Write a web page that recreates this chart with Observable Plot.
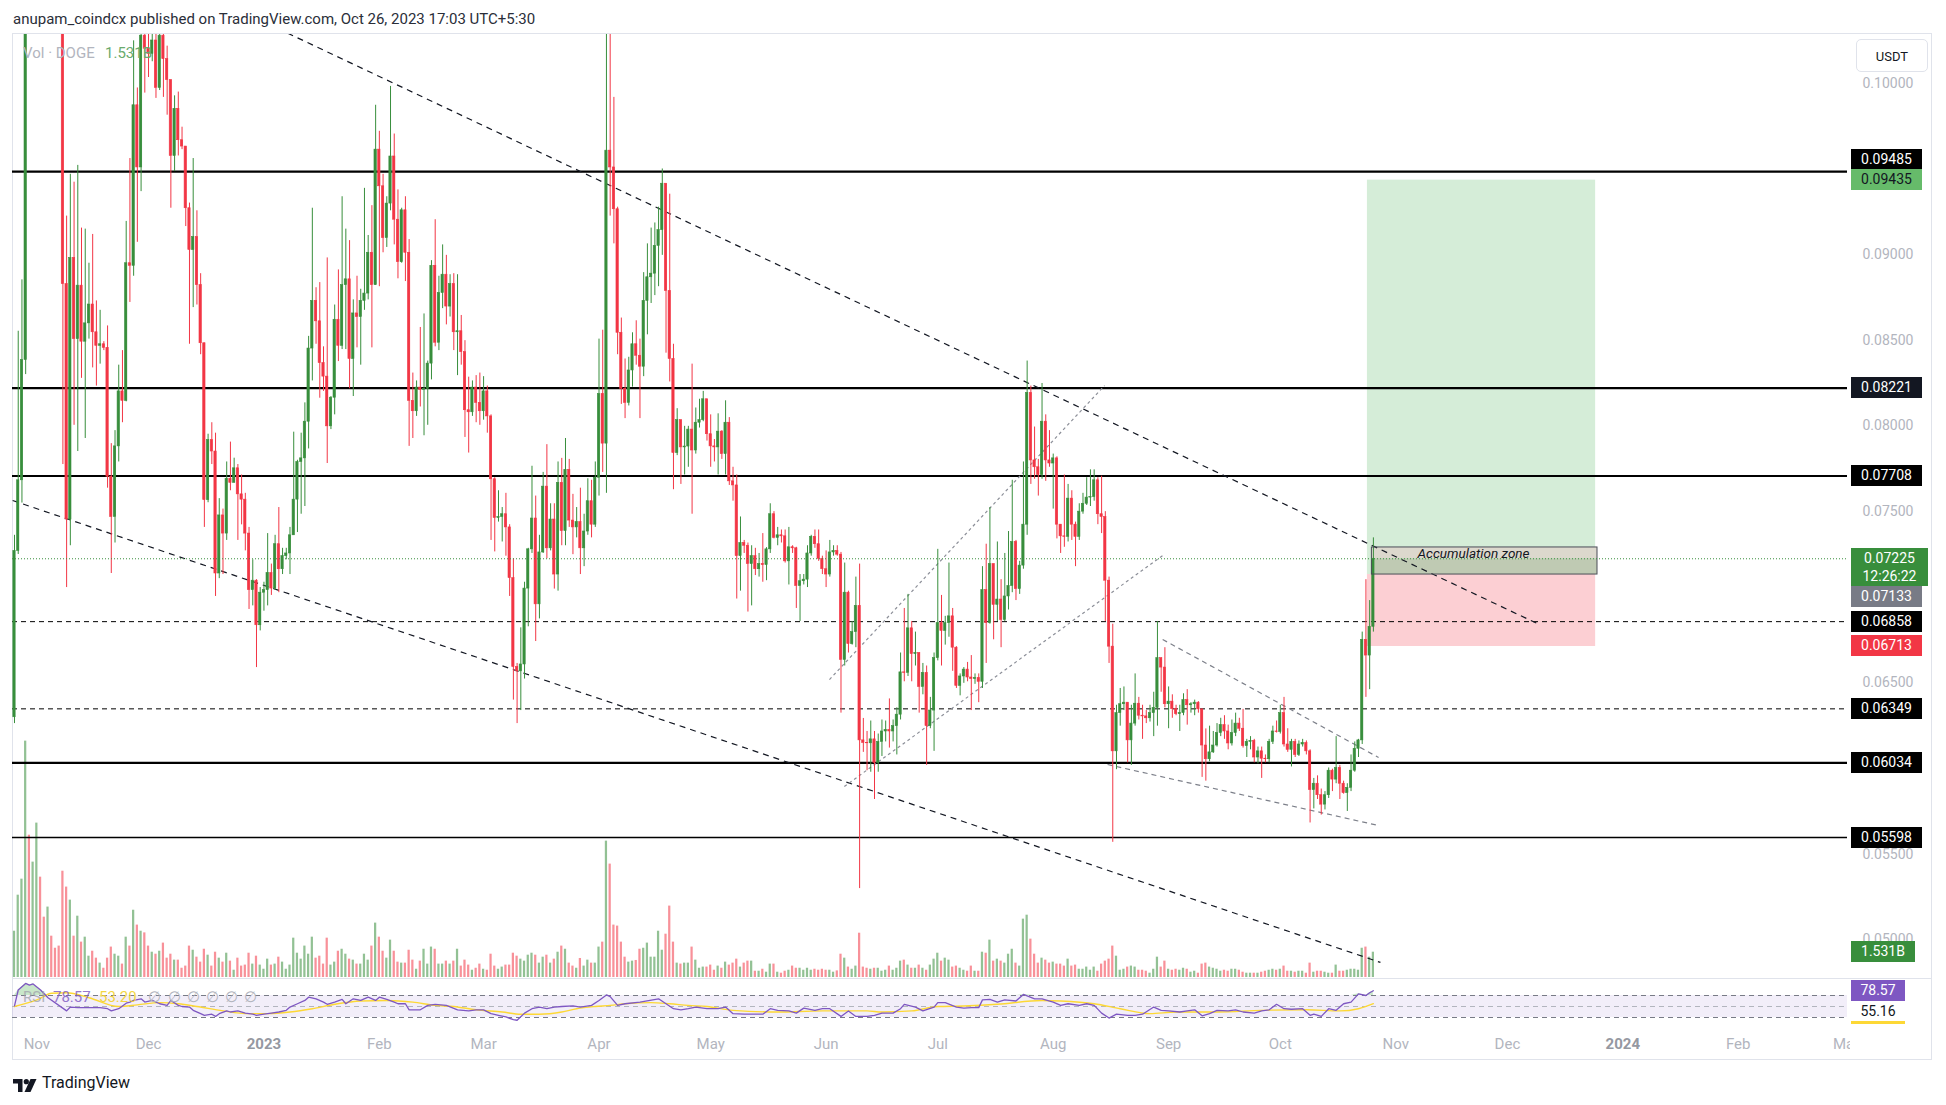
<!DOCTYPE html>
<html><head><meta charset="utf-8">
<script src="https://cdn.jsdelivr.net/npm/d3@7"></script>
<script src="https://cdn.jsdelivr.net/npm/@observablehq/plot@0.6"></script>
<style>
body{margin:0;background:#fff;font-family:Roboto,"Liberation Sans",sans-serif;}
#root{position:relative;width:1946px;height:1105px;overflow:hidden;}
.layer{position:absolute;left:0;top:0;pointer-events:none;}
</style></head><body><div id="root"></div>
<script>
const START = Date.UTC(2022, 9, 26);
const DAY = 864e5;
const firstOpen = 0.0630;
const closes = [
.07271,.07683,.08385,.1300,.1250,.1390,.1420,.1320,.1270,.1310,
.1230,.1150,.1080,.08828,.07454,.08981,.08507,.08819,.08492,.08599,
.08709,.08547,.08468,.08477,.08456,.07704,.07469,.07881,.08202,.08147,
.08950,.08935,.09872,.09509,.10278,.10202,.10172,.1025,.09973,.10278,
.10141,.10019,.09576,.09851,.09668,.09631,.09271,.09027,.09103,.08822,
.08483,.07567,.07918,.07851,.07139,.07478,.07372,.07692,.07668,.07753,
.07601,.07570,.07372,.07042,.07097,.06837,.07027,.07042,.07142,.07051,
.07310,.07164,.07240,.07256,.07362,.07570,.07790,.07811,.08025,.08452,
.08730,.08611,.08367,.08288,.07998,.08165,.08620,.08468,.08822,.08856,
.08391,.08657,.08636,.08730,.08773,.09011,.08822,.09613,.09399,.09097,
.09298,.09573,.09204,.08956,.09259,.09011,.08147,.08086,.08224,.08211,
.08217,.08364,.08935,.08486,.08776,.08883,.08697,.08828,.08547,.08553,
.08431,.08092,.08080,.08224,.08135,.08086,.08202,.08056,.07689,.07463,
.07469,.07485,.07408,.07112,.06593,.06568,.06608,.07051,.07280,.07460,
.06959,.07262,.07646,.07286,.07454,.07133,.07668,.07387,.07744,.07448,
.07408,.07439,.07286,.07384,.07561,.07424,.07698,.08187,.07897,.09607,
.09509,.09265,.08544,.08217,.08135,.08324,.08477,.08410,.08346,.08730,
.08868,.08889,.09051,.09143,.09414,.08788,.08391,.07842,.08034,.07875,
.07880,.07979,.07857,.08019,.08034,.08156,.07952,.07881,.07875,.07967,
.07836,.08019,.07677,.07653,.07240,.07317,.07301,.07194,.07240,.07164,
.07194,.07188,.07280,.07485,.07347,.07362,.07356,.07210,.07292,.07286,
.07066,.07094,.07103,.07256,.07353,.07310,.07225,.07164,.07133,.07262,
.07271,.07249,.06635,.07027,.06727,.06797,.06950,.06165,.06150,.06148,
.06171,.06034,.06156,.06217,.06226,.06217,.06248,.06315,.06562,.06559,
.06819,.06669,.06675,.06477,.06559,.06248,.06339,.06645,.06849,.06804,
.06849,.06889,.06706,.06483,.06538,.06578,.06532,.06523,.06529,.06507,
.07042,.06849,.07194,.06956,.06987,.06868,.07005,.07066,.07323,.07048,
.07185,.07424,.08193,.07799,.07759,.07714,.08025,.07799,.07781,.07811,
.07424,.07356,.07353,.07576,.07424,.07353,.07500,.07546,.07582,.07585,
.07683,.07485,.07469,.07097,.06712,.06101,.06324,.06376,.06385,.06165,
.06263,.06379,.06309,.06305,.06294,.06324,.06355,.06645,.06590,.06376,
.06391,.06348,.06318,.06324,.06400,.06370,.06376,.06385,.06346,.06135,
.06055,.06095,.06135,.06208,.06254,.06217,.06147,.06208,.06263,.06233,
.06132,.06156,.06162,.06065,.06101,.06058,.06055,.06156,.06217,.06214,
.06324,.06141,.06110,.06156,.06080,.06141,.06150,.06101,.05875,.05912,
.05845,.05790,.05845,.05988,.05936,.06004,.05912,.05857,.05888,.05988,
.06116,.06165,.06752,.06660,.06828,.07225];
const highs = [
.07362,.08553,.08853,.1420,.1380,.1430,.1590,.1440,.1350,.1360,
.1330,.1240,.1170,.1090,.09225,.09469,.09423,.09521,.09155,.09149,
.08950,.09118,.08730,.08675,.08492,.08584,.07897,.07973,.08355,.08440,
.09194,.09561,.10248,.09973,.1045,.1040,.1035,.1040,.1035,.1045,
.1040,.10217,.10019,.09927,.09949,.09744,.09631,.09301,.09561,.09256,
.08889,.08483,.07952,.08019,.07958,.07576,.07515,.07790,.07906,.07812,
.07775,.07714,.07607,.07408,.07219,.07103,.07057,.07088,.07372,.07194,
.07362,.07524,.07286,.07286,.07408,.07964,.07800,.07958,.08135,.08523,
.09271,.08807,.08837,.08462,.08981,.08172,.08706,.08911,.09338,.09149,
.09082,.08736,.08874,.08798,.09387,.09112,.09286,.09872,.09720,.09469,
.09338,.09982,.09704,.09378,.09271,.09338,.09088,.08309,.08263,.08575,
.08654,.08379,.08965,.09204,.08874,.09057,.08996,.08883,.08889,.08883,
.08645,.08498,.08285,.08263,.08294,.08309,.08288,.08233,.08065,.07698,
.07622,.07524,.07607,.07424,.07225,.06614,.06822,.07088,.07286,.07765,
.07591,.07362,.07729,.07891,.07546,.07546,.07790,.07811,.07927,.07805,
.07601,.07524,.07637,.07485,.07692,.07683,.07790,.08507,.08559,.1040,
.1030,.09918,.09277,.08630,.08391,.08401,.08544,.08614,.08507,.08895,
.09063,.09155,.09185,.09277,.09500,.09414,.09353,.08477,.08101,.08034,
.07998,.07998,.08361,.08105,.08156,.08202,.08156,.08065,.07921,.08071,
.07973,.08147,.08049,.07759,.07714,.07469,.07332,.07317,.07301,.07286,
.07256,.07372,.07290,.07546,.07500,.07408,.07393,.07393,.07408,.07301,
.07292,.07133,.07133,.07301,.07362,.07393,.07393,.07240,.07271,.07332,
.07301,.07301,.07262,.07200,.07036,.06859,.07118,.07194,.06293,.06217,
.06278,.06217,.06202,.06284,.06278,.06407,.06284,.06355,.06675,.06935,
.07017,.06859,.06797,.06675,.06614,.06599,.06416,.06675,.07280,.07011,
.06889,.07200,.06935,.06712,.06553,.06590,.06620,.06660,.06553,.06553,
.07179,.07310,.07524,.07194,.07323,.07103,.07256,.07384,.07683,.07332,
.07210,.07790,.08379,.08233,.07994,.07805,.08248,.08065,.07973,.07836,
.07820,.07424,.07714,.07659,.07622,.07439,.07546,.07607,.07698,.07744,
.07744,.07698,.07707,.07500,.07118,.06843,.06370,.06468,.06477,.06385,
.06370,.06553,.06416,.06370,.06339,.06370,.06446,.06859,.06645,.06706,
.06477,.06431,.06370,.06370,.06437,.06461,.06385,.06400,.06391,.06346,
.06232,.06248,.06217,.06263,.06294,.06309,.06254,.06284,.06324,.06294,
.06346,.06171,.06187,.06171,.06126,.06126,.06080,.06171,.06248,.06278,
.06370,.06416,.06233,.06171,.06171,.06162,.06171,.06162,.06110,.05943,
.05958,.05881,.05866,.06004,.05997,.06187,.06019,.05927,.05912,.06080,
.06156,.06171,.06797,.07103,.06981,.07347];
const lows = [
.06263,.07250,.07550,.08300,.1190,.1220,.1330,.1280,.1200,.1230,
.1200,.1100,.1040,.07775,.07057,.07301,.08004,.07851,.08278,.07927,
.08507,.08339,.08233,.08361,.08440,.07637,.07139,.07317,.07790,.08019,
.08141,.08721,.08874,.09072,.09368,.09943,.10034,.10126,.09912,.09958,
.09918,.09814,.09271,.09485,.09576,.09613,.09164,.08477,.08691,.08706,
.08416,.07408,.07552,.07775,.07005,.07109,.07133,.07332,.07622,.07668,
.07332,.07423,.07271,.06929,.06950,.06590,.06804,.06919,.06950,.07011,
.07042,.07027,.07133,.07219,.07133,.07378,.07378,.07485,.07530,.07866,
.08263,.08477,.08162,.08202,.07781,.07979,.08065,.08376,.08446,.08446,
.08217,.08172,.08456,.08355,.08675,.08736,.08456,.08828,.08813,.09011,
.09042,.09256,.09057,.08859,.08950,.08843,.07881,.07927,.08056,.08111,
.07943,.08004,.08269,.08462,.08440,.08685,.08590,.08636,.08440,.08294,
.08355,.07933,.07842,.08056,.08019,.08004,.08034,.07958,.07332,.07265,
.07439,.07323,.07240,.07005,.06400,.06263,.06339,.06523,.06828,.07256,
.06742,.06874,.07256,.07225,.07271,.07048,.07036,.07301,.07301,.07408,
.07249,.07347,.07133,.07179,.07362,.07347,.07408,.07591,.07729,.07607,
.09225,.09063,.08416,.08126,.08043,.08117,.08227,.08355,.08043,.08288,
.08532,.08715,.08761,.08813,.08996,.08425,.08257,.07628,.07827,.07659,
.07714,.07759,.07485,.07836,.07988,.08025,.07912,.07759,.07790,.07714,
.07805,.07714,.07653,.07561,.06990,.07036,.07256,.06914,.06950,.07127,
.07118,.07088,.07097,.07256,.07341,.07301,.07317,.07200,.07072,.07256,
.06935,.06859,.07072,.07057,.07240,.07286,.07210,.07133,.07057,.07118,
.07240,.07240,.06324,.06599,.06675,.06721,.06706,.05300,.06095,.05988,
.05979,.05820,.05979,.06071,.06156,.06120,.06156,.06080,.06284,.06507,
.06538,.06507,.06599,.06324,.06431,.06019,.06233,.06101,.06629,.06599,
.06721,.06767,.06568,.06468,.06425,.06498,.06507,.06339,.06492,.06385,
.06468,.06614,.06843,.06752,.06859,.06706,.06859,.06926,.07027,.06981,
.07017,.07164,.07362,.07659,.07689,.07591,.07689,.07677,.07759,.07515,
.07341,.07256,.07292,.07323,.07332,.07179,.07332,.07485,.07536,.07530,
.07561,.07424,.07372,.06859,.06614,.05570,.05994,.06248,.06339,.06034,
.06019,.06248,.06284,.06171,.06263,.06272,.06187,.06248,.06446,.06355,
.06233,.06294,.06309,.06217,.06309,.06254,.06324,.06309,.06324,.05949,
.05927,.06040,.06089,.06126,.06187,.06171,.06110,.06132,.06187,.06217,
.06120,.06065,.06110,.06034,.06028,.05943,.06034,.06034,.06141,.06208,
.06202,.06126,.06095,.06010,.06065,.06071,.06126,.06080,.05683,.05765,
.05820,.05729,.05759,.05826,.05866,.05912,.05820,.05851,.05750,.05866,
.05979,.06065,.06141,.06416,.06461,.06797];
// volume, billions DOGE
const volumes = [
2.80,4.98,5.95,14.30,8.61,6.98,9.34,6.07,3.65,4.26,
2.50,1.77,1.90,6.43,5.47,4.68,2.50,3.71,2.14,2.44,
1.29,1.59,1.17,0.87,0.56,1.17,1.84,1.41,1.29,0.81,
2.44,1.90,4.07,3.17,2.80,2.70,1.90,1.53,1.41,1.59,
2.08,1.17,1.41,1.05,1.05,0.56,0.69,1.90,1.65,1.23,
0.93,1.71,1.35,0.69,1.53,1.17,0.93,1.47,0.99,0.44,
1.17,0.69,0.75,1.47,0.81,1.29,0.75,0.50,1.11,0.75,
0.81,1.23,0.93,0.50,0.75,2.38,1.47,1.11,1.90,1.41,
2.44,1.17,1.29,0.81,2.38,0.75,0.93,1.59,1.71,1.41,
1.11,1.05,0.81,0.81,1.41,1.05,1.90,3.29,2.44,1.59,
1.17,2.26,1.59,0.93,0.87,0.87,1.65,1.05,0.50,0.99,
1.71,0.81,1.84,1.71,0.81,0.81,0.99,0.81,0.99,1.71,
0.69,1.05,0.75,0.44,0.56,0.81,0.50,0.44,1.41,0.69,
0.50,0.63,0.75,0.75,1.47,1.29,1.11,0.99,1.35,1.47,
1.35,0.87,1.23,1.35,0.87,1.11,1.53,1.90,1.71,0.87,
0.69,0.56,1.15,0.69,1.05,0.87,0.87,1.84,2.14,8.25,
6.86,3.17,3.11,2.14,1.23,0.93,0.99,1.03,1.71,1.77,
2.08,1.23,1.23,2.80,1.65,2.62,4.32,2.14,0.87,0.81,
0.87,0.87,1.84,1.05,0.56,0.63,0.63,0.75,0.44,0.69,
0.56,0.93,0.75,0.87,1.11,0.63,0.87,0.99,0.99,0.38,
0.38,0.50,0.32,0.81,0.81,0.32,0.26,0.38,0.44,0.69,
0.56,0.56,0.44,0.56,0.44,0.50,0.44,0.50,0.44,0.44,
0.32,0.40,1.41,1.17,0.63,0.50,0.69,2.68,0.63,0.56,
0.50,0.56,0.56,0.38,0.44,0.69,0.44,0.56,0.99,1.05,
0.75,0.56,0.56,0.75,0.56,0.44,0.75,1.11,1.47,0.99,
1.17,1.05,0.63,0.69,0.56,0.44,0.38,0.69,0.38,0.38,
1.53,1.47,2.26,0.99,1.11,0.99,0.87,1.41,1.71,0.87,
0.69,3.53,3.77,2.32,1.41,0.87,1.17,1.05,0.87,0.93,
0.81,0.81,0.69,1.11,0.69,0.75,0.50,0.50,0.63,0.44,
0.63,0.38,0.81,0.99,1.11,1.90,1.29,0.44,0.50,0.63,
0.69,0.63,0.44,0.44,0.38,0.26,0.50,1.23,0.63,0.99,
0.50,0.44,0.50,0.44,0.56,0.50,0.32,0.38,0.26,0.81,
0.87,0.63,0.56,0.50,0.38,0.44,0.38,0.50,0.50,0.44,
0.32,0.26,0.26,0.26,0.26,0.32,0.38,0.44,0.50,0.44,
0.50,0.69,0.38,0.38,0.32,0.38,0.38,0.26,0.87,0.32,
0.38,0.38,0.32,0.26,0.26,0.75,0.38,0.38,0.44,0.50,
0.50,0.44,1.77,1.84,1.23,1.531];
// RSI(14): [day index, value]
const rsiPoints = [[0,51],[1,80],[3,92],[4,89],[5,91],[7,80],[9,66],[14,42],[15,49],[17,48],[19,48],[23,48],[25,46],[26,42],[28,46],[30,56],[31,58],[32,61],[34,64],[35,58],[37,61],[39,55],[41,52],[42,61],[44,52],[45,50],[47,49],[48,43],[50,37],[51,34],[53,36],[54,32],[55,37],[57,42],[58,40],[60,42],[62,38],[64,36],[65,34],[67,36],[69,38],[71,40],[73,43],[74,49],[76,55],[78,61],[79,67],[81,64],[83,58],[84,54],[86,58],[88,63],[89,55],[91,64],[93,61],[95,67],[97,61],[98,67],[100,63],[102,58],[103,55],[105,55],[106,44],[109,44],[111,52],[113,54],[116,52],[119,44],[122,42],[124,44],[126,44],[128,37],[130,34],[132,31],[134,26],[135,25],[137,38],[139,46],[141,49],[143,46],[145,49],[147,50],[150,51],[152,49],[155,52],[157,61],[159,71],[160,68],[162,52],[164,55],[168,58],[173,64],[175,55],[177,46],[179,44],[181,46],[183,49],[184,48],[186,46],[189,46],[191,49],[193,37],[196,36],[199,36],[201,36],[203,46],[205,43],[208,42],[210,38],[212,47],[215,43],[217,46],[219,46],[222,32],[224,42],[226,32],[229,32],[231,34],[233,38],[236,38],[238,46],[239,54],[242,49],[244,42],[247,49],[248,57],[250,57],[253,49],[255,47],[257,48],[259,48],[260,62],[262,63],[264,58],[266,62],[269,60],[271,72],[274,64],[276,64],[279,58],[281,52],[283,55],[286,52],[288,55],[290,52],[292,38],[294,29],[296,36],[299,34],[301,34],[303,36],[306,49],[308,43],[310,42],[313,40],[315,42],[317,44],[319,33],[321,37],[323,43],[326,42],[328,44],[330,40],[333,38],[335,42],[337,44],[339,54],[341,46],[343,45],[346,46],[348,34],[349,36],[351,32],[353,46],[355,43],[357,55],[359,58],[361,73],[363,70],[364,75],[365,78.57]];
const rsiMaPoints = [[0,50],[6,62],[10,74],[14,75],[20,66],[28,50],[33,53],[39,57],[44,55],[49,50],[56,42],[63,37],[68,37],[74,40],[80,46],[86,54],[93,60],[100,61],[107,58],[113,52],[118,50],[124,44],[131,40],[136,36],[141,36],[147,40],[151,46],[156,50],[160,52],[164,55],[171,57],[176,55],[181,52],[186,50],[193,43],[205,40],[217,42],[229,42],[233,40],[241,42],[248,50],[255,51],[264,54],[276,61],[281,60],[290,55],[297,46],[305,37],[312,40],[323,40],[335,43],[347,44],[356,42],[361,46],[365,55.16]];
const levelsSolid = [0.09485, 0.08221, 0.07708, 0.06034];
const levelsThin = [0.05598];
const levelsDashed = [0.06858, 0.06349];
const priceTicks = [0.10, 0.09, 0.085, 0.08, 0.075, 0.065, 0.055, 0.05];
const monthTicks = ["2022-11-01","2022-12-01","2023-01-01","2023-02-01","2023-03-01","2023-04-01","2023-05-01","2023-06-01","2023-07-01","2023-08-01","2023-09-01","2023-10-01","2023-11-01","2023-12-01","2024-01-01","2024-02-01","2024-03-01"];
// drawings, as [day index, price] endpoints
const trendBlack = [{i1:-0.5,p1:0.07565,i2:366.9,p2:0.04869},{i1:60,p1:0.10430,i2:409.6,p2:0.06841}];
const channelLines = [{i1:218.9,p1:0.06520,i2:292.8,p2:0.08236},{i1:222.9,p1:0.05896,i2:308.4,p2:0.07244}];
const wedgeLines = [{i1:308.4,p1:0.06754,i2:366.4,p2:0.06065},{i1:293.6,p1:0.06024,i2:366.4,p2:0.05668}];
const position = {i1:363.4, i2:424.7, target:0.09435, entry:0.07133, stop:0.06713};
const accZone = {i1:364.6, i2:425.2, top:0.07291, mid:0.07225, bottom:0.07133, text:"Accumulation zone"};
const lastPrice = 0.07225, lastVolume = 1.531, lastRsi = 78.57, lastRsiMa = 55.16;

const UP = "#388e3c", DOWN = "#f23645";
const day = i => new Date(START + i * DAY);
const candles = closes.map((c, i) => {
  const o = i === 0 ? firstOpen : closes[i - 1];
  return {date: day(i), open: o, close: c, high: Math.max(highs[i], o, c), low: Math.min(lows[i], o, c), vol: volumes[i], col: c >= o ? UP : DOWN};
});
const toLinks = arr => arr.map(d => ({x1: day(d.i1), y1: d.p1, x2: day(d.i2), y2: d.p2}));
const xDomain = [day(-0.537), day(492.35)];
const root = document.getElementById("root");

function layer(el) { const d = document.createElement("div"); d.className = "layer"; d.appendChild(el); root.appendChild(d); return el; }
function div(css, html) { const d = document.createElement("div"); d.style.cssText = "position:absolute;" + css; d.innerHTML = html; root.appendChild(d); return d; }

// frame
div("left:12px;top:33px;width:1920px;height:1027px;border:1px solid #e0e3eb;box-sizing:border-box;", "");
div("left:12px;top:978px;width:1920px;height:1px;background:#e0e3eb;", "");
div("left:13px;top:10px;font-size:15px;line-height:18px;color:#2a2e39;white-space:nowrap;", "anupam_coindcx published on TradingView.com, Oct 26, 2023 17:03 UTC+5:30");

// volume pane (same x scale, own y scale)
const volPlot = layer(Plot.plot({
  width: 1847, height: 978, marginLeft: 12, marginRight: 0, marginTop: 34, marginBottom: 1,
  style: {background: "transparent", overflow: "hidden"},
  x: {type: "utc", domain: xDomain, axis: null},
  y: {domain: [0, 57.05], axis: null},
  color: {type: "identity"},
  marks: [
    Plot.rect(candles, {x1: d => new Date(+d.date - 0.3 * DAY), x2: d => new Date(+d.date + 0.3 * DAY), y1: 0, y2: "vol", fill: "col", fillOpacity: 0.55})
  ]
}));

// price pane
const band = (lo, hi) => [{x1: day(position.i1), x2: day(position.i2), y1: lo, y2: hi}];
const pricePlot = layer(Plot.plot({
  width: 1946, height: 978, marginLeft: 12, marginRight: 99, marginTop: 34, marginBottom: 1,
  style: {background: "transparent", color: "#b2b5be", fontSize: "14px", fontFamily: "Roboto, sans-serif", overflow: "visible"},
  x: {type: "utc", domain: xDomain, axis: null},
  y: {domain: [0.04781, 0.10285], axis: "right", ticks: priceTicks, tickFormat: d3.format(".5f"), tickSize: 0, tickPadding: 15, label: null},
  color: {type: "identity"},
  marks: [
    Plot.rect(band(position.entry, position.target), {x1: "x1", x2: "x2", y1: "y1", y2: "y2", fill: "#d5edd8"}),
    Plot.rect(band(position.stop, position.entry), {x1: "x1", x2: "x2", y1: "y1", y2: "y2", fill: "#fccfd3"}),
    Plot.ruleY(levelsSolid, {stroke: "#000", strokeWidth: 2.2}),
    Plot.ruleY(levelsThin, {stroke: "#000", strokeWidth: 1.4}),
    Plot.ruleY(levelsDashed, {stroke: "#000", strokeWidth: 1, strokeDasharray: "5,4"}),
    Plot.rect([{x1: day(accZone.i1), x2: day(accZone.i2), y1: accZone.mid, y2: accZone.top}], {x1: "x1", x2: "x2", y1: "y1", y2: "y2", fill: "#dcd8cd"}),
    Plot.rect([{x1: day(accZone.i1), x2: day(accZone.i2), y1: accZone.bottom, y2: accZone.mid}], {x1: "x1", x2: "x2", y1: "y1", y2: "y2", fill: "#bfcab3"}),
    Plot.link(toLinks(trendBlack), {x1: "x1", y1: "y1", x2: "x2", y2: "y2", stroke: "#131722", strokeWidth: 1.2, strokeDasharray: "6,5", clip: true}),
    Plot.link(toLinks(channelLines), {x1: "x1", y1: "y1", x2: "x2", y2: "y2", stroke: "#8c8f98", strokeWidth: 1.2, strokeDasharray: "3,3", clip: true}),
    Plot.link(toLinks(wedgeLines), {x1: "x1", y1: "y1", x2: "x2", y2: "y2", stroke: "#7d808a", strokeWidth: 1.2, strokeDasharray: "5,4", clip: true}),
    Plot.ruleX(candles, {x: "date", y1: "low", y2: "high", stroke: "col", strokeWidth: 1, clip: true}),
    Plot.rect(candles, {x1: d => new Date(+d.date - 0.31 * DAY), x2: d => new Date(+d.date + 0.31 * DAY), y1: d => Math.min(d.open, d.close), y2: d => Math.max(d.open, d.close), fill: "col", stroke: "col", strokeWidth: 0.6, clip: true}),
    Plot.rect([{x1: day(accZone.i1), x2: day(accZone.i2), y1: accZone.bottom, y2: accZone.top}], {x1: "x1", x2: "x2", y1: "y1", y2: "y2", fill: "none", stroke: "#4a4d57", strokeWidth: 1}),
    Plot.text([{x: day((accZone.i1 + accZone.i2) / 2 - 3), y: 0.07255, t: accZone.text}], {x: "x", y: "y", text: "t", fill: "#131722", fontStyle: "italic", fontSize: 13.5}),
    Plot.ruleY([lastPrice], {stroke: UP, strokeWidth: 1, strokeDasharray: "1,2"})
  ]
}));

// RSI pane + time axis
const rsiData = rsiPoints.map(([i, v]) => ({date: day(i), v}));
const rsiMaData = rsiMaPoints.map(([i, v]) => ({date: day(i), v}));
const rsiPlot = layer(Plot.plot({
  width: 1850, height: 1059, marginLeft: 12, marginRight: 3, marginTop: 978.5, marginBottom: 25.5,
  style: {background: "transparent", color: "#b2b5be", fontSize: "15px", fontFamily: "Roboto, sans-serif", overflow: "hidden"},
  x: {type: "utc", domain: xDomain, ticks: monthTicks.map(s => new Date(s + "T00:00Z")), tickFormat: d => d.getUTCMonth() === 0 ? String(d.getUTCFullYear()) : d3.utcFormat("%b")(d), tickSize: 0, tickPadding: 4, label: null},
  y: {domain: [0, 100], axis: null},
  marks: [
    Plot.rect([{x1: xDomain[0], x2: xDomain[1], y1: 30, y2: 70}], {x1: "x1", x2: "x2", y1: "y1", y2: "y2", fill: "#7e57c2", fillOpacity: 0.1}),
    Plot.ruleY([70, 30], {stroke: "#787b86", strokeWidth: 1, strokeDasharray: "5,4"}),
    Plot.ruleY([50], {stroke: "#b2b5be", strokeWidth: 1, strokeDasharray: "5,4"}),
    Plot.areaY(rsiData, {x: "date", y1: 70, y2: d => Math.max(70, d.v), fill: "#4caf50", fillOpacity: 0.3}),
    Plot.line(rsiMaData, {x: "date", y: "v", stroke: "#fdd835", strokeWidth: 1.4, curve: "monotone-x"}),
    Plot.line(rsiData, {x: "date", y: "v", stroke: "#7e57c2", strokeWidth: 1.3})
  ]
}));
d3.select(rsiPlot).selectAll("text").filter(function () { return /^\d{4}$/.test(this.textContent); }).attr("font-weight", "700").attr("fill", "#9598a1");

// right-hand price-scale labels positioned with the plots' own scales
function scaleFn(plot, name) { const s = plot.scale(name); return s.apply ? v => s.apply(v) : d3.scaleLinear(s.domain, s.range); }
const Y = scaleFn(pricePlot, "y");
const V = scaleFn(volPlot, "y");
const R = scaleFn(rsiPlot, "y");
function tag(center, text, bg, fg, w = 71, h = 21, extra = "") {
  div(`left:1851px;top:${center - h / 2}px;width:${w}px;height:${h}px;line-height:${h}px;background:${bg};color:${fg};font-size:14px;text-align:center;${extra}`, text);
}
tag(Y(0.09485) - 12, "0.09485", "#000", "#fff");
tag(Y(0.09435), "0.09435", "#66bb6a", "#131722");
tag(Y(0.08221), "0.08221", "#131722", "#fff");
tag(Y(0.07708), "0.07708", "#000", "#fff");
div(`left:1851px;top:${Y(lastPrice) - 10}px;width:77px;height:38px;line-height:18px;padding-top:1px;box-sizing:border-box;background:#388e3c;color:#fff;font-size:14px;text-align:center;`, "0.07225<br>12:26:22");
tag(Y(position.entry) + 22, "0.07133", "#787b86", "#fff");
tag(Y(0.06858), "0.06858", "#000", "#fff");
tag(Y(position.stop), "0.06713", "#f23645", "#fff");
tag(Y(0.06349), "0.06349", "#000", "#fff");
tag(Y(0.06034), "0.06034", "#000", "#fff");
tag(Y(0.05598), "0.05598", "#000", "#fff");
tag(V(lastVolume), "1.531B", "#388e3c", "#fff", 64);
tag(R(lastRsi), "78.57", "#7e57c2", "#fff", 54);
tag(R(lastRsiMa) + 8, "55.16", "#fff", "#131722", 54, 20, "border-bottom:3px solid #fdd835;");

// USDT badge
div("left:1856px;top:39px;width:72px;height:33px;line-height:33px;border:1px solid #e0e3eb;border-radius:5px;box-sizing:border-box;text-align:center;font-size:13px;color:#131722;background:#fff;", "USDT");
// legends
div("left:23px;top:44px;font-size:15px;line-height:18px;color:#b2b5be;white-space:nowrap;", "Vol · DOGE");
div("left:105px;top:44px;font-size:15px;line-height:18px;color:#6aab6d;white-space:nowrap;", "1.531B");
div("left:23px;top:988px;font-size:15px;line-height:18px;color:#a3a6af;opacity:0.8;", "RSI");
div("left:53px;top:988px;font-size:15px;line-height:18px;color:#7e57c2;opacity:0.8;", "78.57");
div("left:99px;top:988px;font-size:15px;line-height:18px;color:#f2d22e;opacity:0.9;", "53.20");
[148, 168, 187, 206, 225, 244].forEach(x => div(`left:${x}px;top:988px;font-size:15px;line-height:18px;color:#b2b5be;`, "∅"));
// footer logo
div("left:13px;top:1077px;width:24px;height:13px;", '<svg width="24" height="13" viewBox="0 0 24 13"><path d="M0 0h9.5v13H5V4.5H0z" fill="#131722"/><circle cx="13.3" cy="2.7" r="2.6" fill="#131722"/><path d="M17.5 0H23.5L17.5 13h-6z" fill="#131722"/></svg>');
div("left:42px;top:1074px;font-size:16px;line-height:18px;color:#131722;font-weight:400;", "TradingView");
</script></body></html>
